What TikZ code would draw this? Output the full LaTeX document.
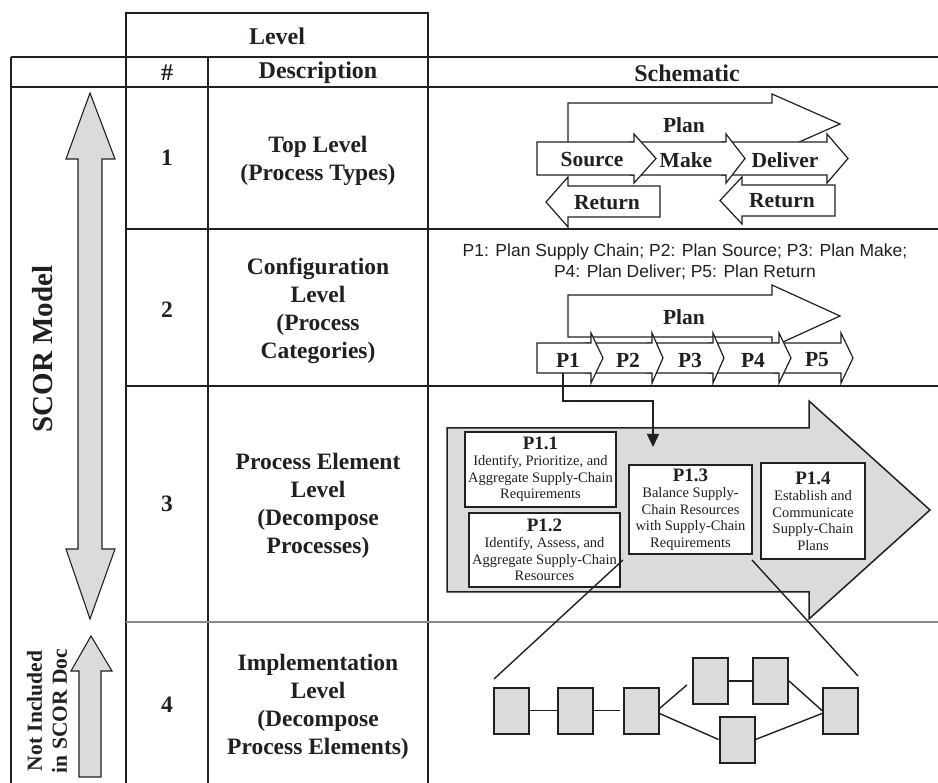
\documentclass[tikz,border=0pt]{standalone}
\usepackage{fontspec}
\setmainfont{Liberation Serif}
\setsansfont{Liberation Sans}
\usetikzlibrary{arrows.meta,calc}
\definecolor{ink}{HTML}{231F20}
\definecolor{panel}{HTML}{DADBDD}
\definecolor{rule}{HTML}{8A8A8A}
\newcommand\setfs[2]{\fontsize{#1}{#2}\selectfont}

\begin{document}
\begin{tikzpicture}[x=1pt,y=-1pt,
  gridline/.style={draw=ink, line width=1.8pt},
  blockarrow/.style={draw=ink, line width=1.2pt, fill=white, line join=miter},
  bigarrow/.style={draw=ink, line width=1.5pt, fill=panel, line join=miter},
  sidearrow/.style={draw=ink, line width=1.1pt, fill=panel, line join=miter},
  head/.style={font=\setfs{24}{28}\bfseries, text=ink, inner sep=0},
  desc/.style={font=\setfs{23.5}{28}\bfseries, align=center, text=ink, inner sep=0},
  lbl/.style={font=\setfs{21.5}{24}\bfseries, text=ink, inner sep=0},
  side/.style={text=ink, inner sep=0, rotate=90, align=center},
  pbox/.style={draw=ink, line width=2pt, fill=white, inner sep=0, align=center,
    font=\setfs{14.5}{16.5}, text=ink},
  ebox/.style={draw=ink, line width=2pt, fill=panel, minimum width=35pt,
    minimum height=46pt, inner sep=0},
  link/.style={draw=ink, line width=1.4pt},
  ptitle/.style={}]
\useasboundingbox (0,0) rectangle (938,783);

% ---------- table frame ----------
\draw[gridline] (126,783) -- (126,13) -- (428,13) -- (428,783);
\draw[gridline] (11,57) -- (938,57);
\draw[gridline] (11,87) -- (938,87);
\draw[gridline] (11,57) -- (11,783);
\draw[gridline] (208,57) -- (208,783);
\draw[gridline] (126,229) -- (938,229);
\draw[draw=ink, line width=2.8pt] (126,386) -- (938,386);
\draw[draw=rule, line width=1.5pt] (126,622) -- (938,622);

% ---------- headers ----------
\node[head] (hlevel) at (277,36) {Level};
\node[head] (hnum) at (167,73) {\#};
\node[head] (hdesc) at (318,73) {Description};
\node[head] (hschem) at (687,73) {Schematic};

% ---------- level numbers and descriptions ----------
\node[desc] (n1) at (167,158) {1};
\node[desc] (n2) at (167,310) {2};
\node[desc] (n3) at (167,504) {3};
\node[desc] (n4) at (167,705) {4};
\node[desc] (d1) at (318,161) {Top Level\\(Process Types)};
\node[desc] (d2) at (318,311) {Configuration\\Level\\(Process\\Categories)};
\node[desc] (d3) at (318,506) {Process Element\\Level\\(Decompose\\Processes)};
\node[desc] (d4) at (318,707) {Implementation\\Level\\(Decompose\\Process Elements)};

% ---------- left column ----------
\draw[sidearrow] (90,93) -- (115,159) -- (102,159) -- (102,549) -- (115,549)
  -- (90,619) -- (66,549) -- (78,549) -- (78,159) -- (66,159) -- cycle;
\draw[sidearrow] (91,636) -- (112,671) -- (101,671) -- (101,777) -- (79,777)
  -- (79,671) -- (71,671) -- cycle;
\node[side, font=\setfs{29}{32}\bfseries] (scor) at (43,349) {SCOR Model};
\node[side, font=\setfs{21.5}{25}\bfseries] (notinc) at (47,711)
  {Not Included\\in SCOR Doc};

% ---------- level 1 schematic ----------
\draw[blockarrow] (568,145) -- (568,103) -- (772,103) -- (772,94) -- (840,124)
  -- (772,154) -- (772,145) -- cycle;
\draw[blockarrow] (722,142) -- (827,142) -- (827,134) -- (848,158.5) -- (827,183)
  -- (827,175) -- (722,175) -- cycle;
\draw[blockarrow] (630,142) -- (726,142) -- (726,134) -- (745,158.5) -- (726,183)
  -- (726,175) -- (630,175) -- cycle;
\draw[blockarrow] (537,142) -- (634,142) -- (634,134) -- (656,158.5) -- (634,183)
  -- (634,175) -- (537,175) -- cycle;
\draw[blockarrow] (546,202) -- (568,177) -- (568,186) -- (660,186) -- (660,217)
  -- (568,217) -- (568,227) -- cycle;
\draw[blockarrow] (720,200.5) -- (742,177) -- (742,185) -- (835,185) -- (835,216)
  -- (742,216) -- (742,224) -- cycle;
\node[lbl] (plan1) at (684,125) {Plan};
\node[lbl] (source) at (592,160) {Source};
\node[lbl] (make) at (686,160) {Make};
\node[lbl] (deliver) at (785,160) {Deliver};
\node[lbl] (retl) at (607,203) {Return};
\node[lbl] (retr) at (782,201) {Return};

% ---------- level 2 schematic ----------
\node[font=\sffamily\setfs{17.5}{21}, text=ink, align=center, inner sep=0] (legend)
  at (685,261.5) {P1: Plan Supply Chain; P2: Plan Source; P3: Plan Make;\\
  P4: Plan Deliver; P5: Plan Return};
\draw[blockarrow] (568,337) -- (568,295) -- (772,295) -- (772,285) -- (840,316)
  -- (772,347) -- (772,337) -- cycle;
\draw[blockarrow] (774,343) -- (841,343) -- (841,333) -- (853,358) -- (841,383)
  -- (841,373) -- (774,373) -- cycle;
\draw[blockarrow] (708,343) -- (779,343) -- (779,333) -- (791,358) -- (779,383)
  -- (779,373) -- (708,373) -- cycle;
\draw[blockarrow] (647,343) -- (713,343) -- (713,333) -- (724,358) -- (713,383)
  -- (713,373) -- (647,373) -- cycle;
\draw[blockarrow] (586,343) -- (652,343) -- (652,333) -- (663,358) -- (652,383)
  -- (652,373) -- (586,373) -- cycle;
\draw[blockarrow] (537,343) -- (591,343) -- (591,333) -- (603,358) -- (591,383)
  -- (591,373) -- (537,373) -- cycle;
\node[lbl] (plan2) at (684,317) {Plan};
\node[lbl] (p1) at (568,360) {P1};
\node[lbl] (p2) at (628,360) {P2};
\node[lbl] (p3) at (690,360) {P3};
\node[lbl] (p4) at (753,360) {P4};
\node[lbl] (p5) at (817,360) {P5};

% ---------- level 3 schematic ----------
\draw[bigarrow] (447,428) -- (809,428) -- (809,401) -- (930,510) -- (809,619)
  -- (809,592) -- (447,592) -- cycle;
\node[pbox, minimum width=151pt, minimum height=75pt] (p11) at (540.5,469.5)
  {{\setfs{19}{16.5}\bfseries P1.1}\\Identify, Prioritize, and\\Aggregate Supply-Chain\\Requirements};
\node[pbox, minimum width=151pt, minimum height=74pt] (p12) at (544.5,550)
  {{\setfs{19}{16.5}\bfseries P1.2}\\Identify, Assess, and\\Aggregate Supply-Chain\\Resources};
\node[pbox, minimum width=123pt, minimum height=89pt] (p13) at (690.5,509.5)
  {{\setfs{19}{16.5}\bfseries P1.3}\\Balance Supply-\\Chain Resources\\with Supply-Chain\\Requirements};
\node[pbox, minimum width=104pt, minimum height=96pt] (p14) at (813,511)
  {{\setfs{19}{16.5}\bfseries P1.4}\\Establish and\\Communicate\\Supply-Chain\\Plans};

% P1 expands into the level-3 elements
\coordinate (p1foot) at (563,373);
\coordinate (p1drop) at (653,447);
\draw[link, -{Triangle[length=13pt,width=12pt]}] (p1foot) -- (563,401) -- (653,401) -- (p1drop);

% ---------- level 4 schematic ----------
\node[ebox] (b1) at (511.5,710.5) {};
\node[ebox] (b2) at (575.5,710.5) {};
\node[ebox] (b3) at (641,710.5) {};
\node[ebox] (b4) at (710,681) {};
\node[ebox] (b5) at (770.5,681) {};
\node[ebox] (b6) at (737,739.5) {};
\node[ebox] (b7) at (840.5,710.5) {};
\draw[link] (b1.east) -- (b2.west);
\draw[link, shorten >=3pt] (b2.east) -- (b3.west);
\draw[link, shorten >=6pt] ($(b3.east)+(0,-2)$) -- (b4.west);
\draw[link] (b4.east) -- (b5.west);
\draw[link] (b5.east) -- (b7.west);
\draw[link] ($(b3.east)+(0,3)$) -- (b6.west);
\draw[link] (b6.east) -- ($(b7.west)+(0,3)$);

% zoom lines from level 3 down to level 4
\coordinate (zl1) at (623,560);
\coordinate (zl2) at (494,679);
\coordinate (zr1) at (752,560);
\coordinate (zr2) at (858,676);
\draw[link] (zl1) -- (zl2);
\draw[link] (zr1) -- (zr2);
\end{tikzpicture}
\end{document}
